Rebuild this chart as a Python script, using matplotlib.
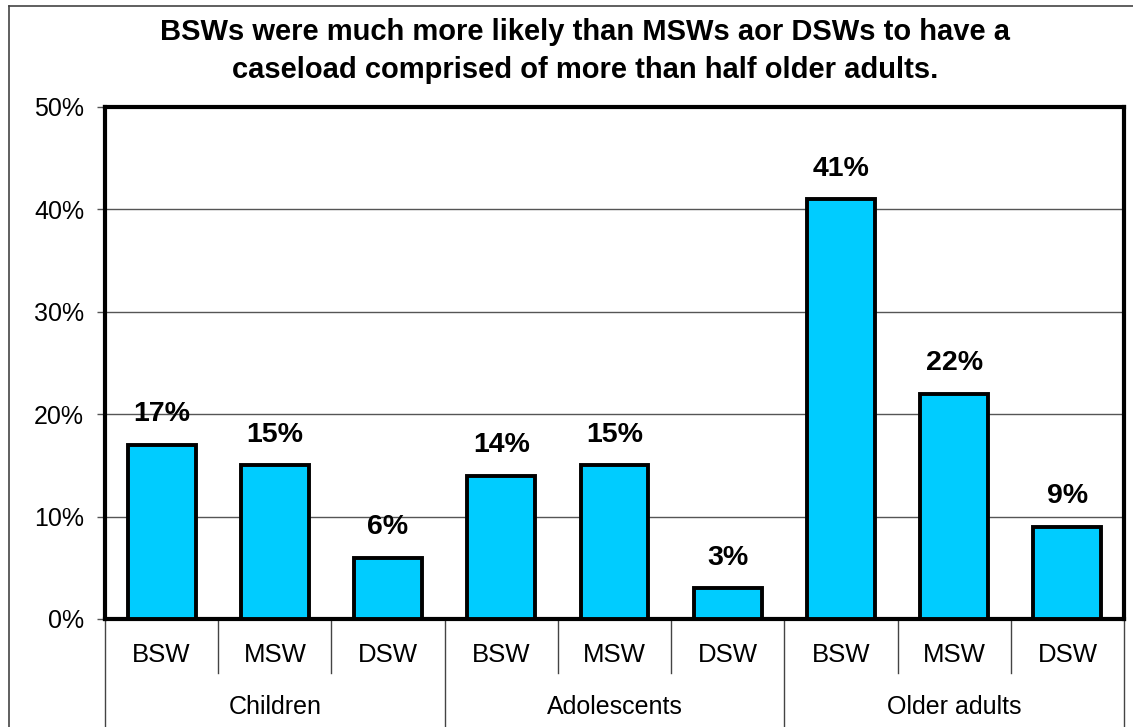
import matplotlib
matplotlib.use("Agg")
import matplotlib.pyplot as plt
from matplotlib.lines import Line2D

# data
groups = ["Children", "Adolescents", "Older adults"]
degrees = ["BSW", "MSW", "DSW"]
values = [17, 15, 6, 14, 15, 3, 41, 22, 9]
value_labels = ["17%", "15%", "6%", "14%", "15%", "3%", "41%", "22%", "9%"]
yticks = [0, 10, 20, 30, 40, 50]
title = ("BSWs were much more likely than MSWs aor DSWs to have a\n"
         "caseload comprised of more than half older adults.")

plt.rcParams["font.family"] = ["Liberation Sans", "DejaVu Sans"]

fig = plt.figure(figsize=(11.33, 7.27), dpi=100)
ax = fig.add_axes([105 / 1133, 1 - 619 / 727, (1124 - 105) / 1133, (619 - 107) / 727])

# outer chart border: only top and left edges are inside the picture
left, top = 8.5 / 1133, 1 - 5.5 / 727
fig.lines.append(Line2D([left, 1], [top, top], transform=fig.transFigure,
                        color="#444444", linewidth=1.2))
fig.lines.append(Line2D([left, left], [0, top], transform=fig.transFigure,
                        color="#444444", linewidth=1.2))

xs = list(range(len(values)))
ax.bar(xs, values, width=0.6, color="#00CCFF", edgecolor="black",
       linewidth=2.8, zorder=3)
for x, v, lab in zip(xs, values, value_labels):
    ax.annotate(lab, (x, v), xytext=(0, 22), textcoords="offset points",
                ha="center", va="center", fontsize=20.5, fontweight="bold")

ax.set_xlim(-0.5, len(values) - 0.5)
ax.set_ylim(0, 50)
ax.set_yticks(yticks)
ax.set_yticklabels([f"{t}%" for t in yticks], fontsize=18)
ax.tick_params(axis="y", length=6, width=1, color="#555555", pad=9)
ax.set_xticks([])
for t in yticks[1:-1]:
    ax.axhline(t, color="#555555", linewidth=1, zorder=1)
for s in ax.spines.values():
    s.set_linewidth(3)

# two-level category axis
trans = ax.get_xaxis_transform()
for i in range(len(values) + 1):
    x = i - 0.5
    bottom = -0.215 if i % 3 == 0 else -0.105
    ax.plot([x, x], [0, bottom], transform=trans, color="#444444",
            linewidth=1, clip_on=False)
for i, x in enumerate(xs):
    ax.text(x, -0.07, degrees[i % 3], transform=trans, ha="center",
            va="center", fontsize=18.5)
for g, name in enumerate(groups):
    ax.text(g * 3 + 1, -0.172, name, transform=trans, ha="center",
            va="center", fontsize=18)

fig.text(585 / 1133, 1 - 51 / 727, title, ha="center", va="center",
         fontsize=21, fontweight="bold", linespacing=1.5)

fig.savefig("out.png", dpi=100)
